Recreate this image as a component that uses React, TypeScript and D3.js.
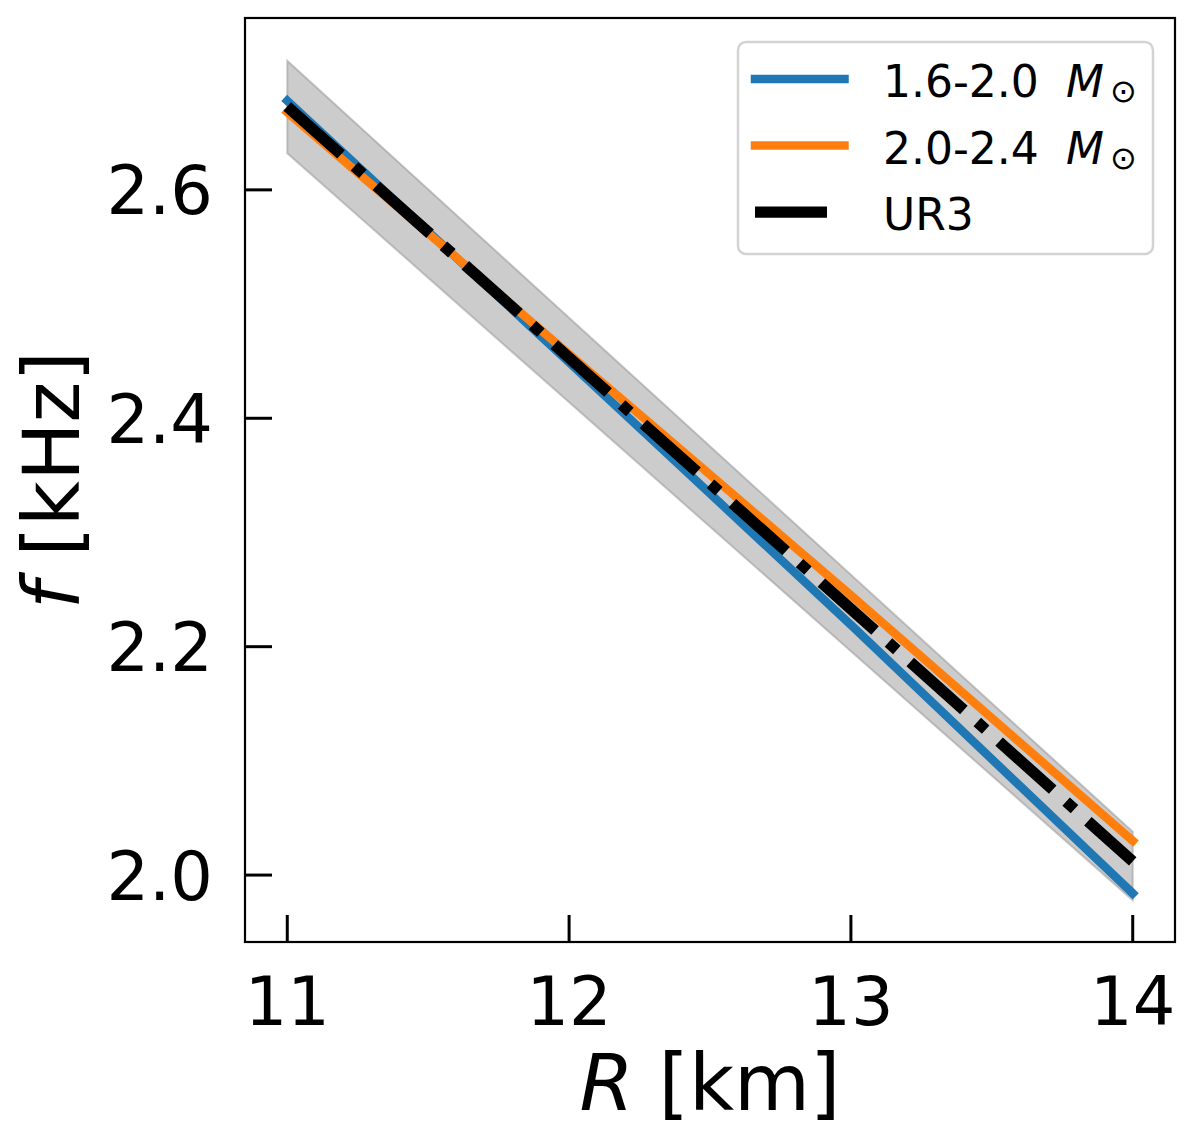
import React from "react";
import * as d3 from "d3";

const radii = [11, 12, 13, 14];
const lowMass = [2.678, 2.449, 2.219, 1.984];
const highMass = [2.668, 2.456, 2.245, 2.03];
const ur3 = [2.673, 2.453, 2.233, 2.012];
const bandUpper = [2.713, 2.488, 2.263, 2.038];
const bandLower = [2.632, 2.414, 2.196, 1.978];
const xTicks = [11, 12, 13, 14];
const yTicks = [2.0, 2.2, 2.4, 2.6];
const legendLabels = ["1.6-2.0", "2.0-2.4", "UR3"];

const W = 1196;
const H = 1145;
const left = 245;
const right = 1175;
const top = 18;
const bottom = 942;

export default function App() {
  const x = d3.scaleLinear().domain([10.85, 14.15]).range([left, right]);
  const y = d3.scaleLinear().domain([1.9414, 2.7505]).range([bottom, top]);

  const line = (vals: number[]) =>
    d3
      .line<number>()
      .x((_, i) => x(radii[i]))
      .y((v) => y(v))
      .curve(d3.curveMonotoneX)(vals) as string;

  const area = d3
    .area<number>()
    .x((_, i) => x(radii[i]))
    .y0((_, i) => y(bandLower[i]))
    .y1((_, i) => y(bandUpper[i]))
    .curve(d3.curveMonotoneX)(radii.map((r) => r)) as string;

  const font = "DejaVu Sans";
  const tickFs = 67;
  const labelFs = 78;
  const legFs = 44;

  const legX = 738;
  const legY = 42;
  const legW = 415;
  const legH = 212;
  const rows = [
    { color: "#1f77b4", dash: undefined as string | undefined, w: 8.5, label: legendLabels[0], sun: true, cap: "square" },
    { color: "#ff7f0e", dash: undefined as string | undefined, w: 8.5, label: legendLabels[1], sun: true, cap: "square" },
    { color: "#000000", dash: "72,18,11.25,18", w: 11.25, label: legendLabels[2], sun: false, cap: "butt" },
  ];

  return (
    <svg
      width={W}
      height={H}
      style={{ position: "absolute", left: 0, top: 0, background: "#fff" }}
      fontFamily={font}
    >
      <rect x={0} y={0} width={W} height={H} fill="#fff" />
      {/* band */}
      <path d={area} fill="grey" fillOpacity={0.4} stroke="grey" strokeOpacity={0.4} strokeWidth={2} />
      {/* lines */}
      <path d={line(lowMass)} fill="none" stroke="#1f77b4" strokeWidth={8.5} strokeLinecap="square" />
      <path d={line(highMass)} fill="none" stroke="#ff7f0e" strokeWidth={8.5} strokeLinecap="square" />
      <path
        d={line(ur3)}
        fill="none"
        stroke="#000"
        strokeWidth={11.25}
        strokeDasharray="72,18,11.25,18"
      />
      {/* frame */}
      <rect
        x={left}
        y={top}
        width={right - left}
        height={bottom - top}
        fill="none"
        stroke="#000"
        strokeWidth={2.2}
      />
      {/* x ticks */}
      {xTicks.map((t) => (
        <g key={"x" + t}>
          <line x1={x(t)} x2={x(t)} y1={bottom} y2={bottom - 27} stroke="#000" strokeWidth={3} />
          <text x={x(t)} y={1025} textAnchor="middle" fontSize={tickFs} fill="#000">
            {t}
          </text>
        </g>
      ))}
      {/* y ticks */}
      {yTicks.map((t) => (
        <g key={"y" + t}>
          <line x1={left} x2={left + 27} y1={y(t)} y2={y(t)} stroke="#000" strokeWidth={3} />
          <text x={213} y={y(t) + 24.5} textAnchor="end" fontSize={tickFs} fill="#000">
            {t.toFixed(1)}
          </text>
        </g>
      ))}
      {/* axis labels */}
      <text x={(left + right) / 2} y={1110} textAnchor="middle" fontSize={labelFs} fill="#000">
        <tspan fontStyle="italic">R</tspan>
        <tspan> [km]</tspan>
      </text>
      <text
        transform={`translate(79, ${(top + bottom) / 2}) rotate(-90)`}
        textAnchor="middle"
        fontSize={labelFs}
        fill="#000"
      >
        <tspan fontStyle="italic">f</tspan>
        <tspan> [kHz]</tspan>
      </text>
      {/* legend */}
      <rect
        x={legX}
        y={legY}
        width={legW}
        height={legH}
        rx={8}
        ry={8}
        fill="#fff"
        fillOpacity={0.8}
        stroke="#d3d3d3"
        strokeWidth={2.5}
      />
      {rows.map((r, i) => {
        const ly = 79 + i * 66.5;
        return (
          <g key={"leg" + i}>
            <line
              x1={755}
              x2={844.5}
              y1={ly}
              y2={ly}
              stroke={r.color}
              strokeWidth={r.w}
              strokeDasharray={r.dash}
              strokeLinecap={r.cap as any}
            />
            <text x={883} y={ly + 18} fontSize={legFs} fill="#000">
              {r.label}
            </text>
            {r.sun && (
              <text x={1066} y={ly + 18} fontSize={legFs} fill="#000">
                <tspan fontStyle="italic">M</tspan>
                <tspan fontSize={32} dx={6} dy={5}>
                  ⊙
                </tspan>
              </text>
            )}
          </g>
        );
      })}
    </svg>
  );
}
